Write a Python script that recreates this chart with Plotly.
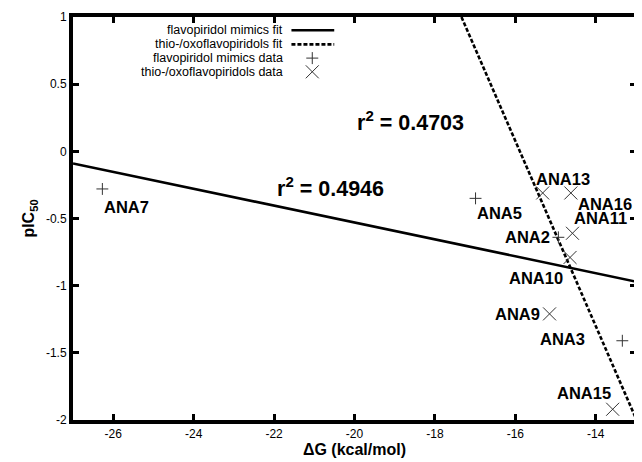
import plotly.graph_objects as go

# ---------------- data ----------------
mimics_names = ["ANA7", "ANA5", "ANA2", "ANA3"]
mimics_dg = [-26.27, -16.99, -14.93, -13.34]
mimics_pic50 = [-0.28, -0.35, -0.64, -1.41]

thio_names = ["ANA13", "ANA16", "ANA11", "ANA10", "ANA9", "ANA15"]
thio_dg = [-15.32, -14.62, -14.58, -14.64, -15.15, -13.58]
thio_pic50 = [-0.31, -0.31, -0.61, -0.79, -1.21, -1.92]

mimics_fit_dg = [-27.0, -13.0]
mimics_fit_pic50 = [-0.09, -0.97]
thio_fit_dg = [-17.34, -13.0]
thio_fit_pic50 = [1.0, -1.99]

mimics_r2 = "0.4946"
thio_r2 = "0.4703"

x_range = [-27, -13]
y_range = [-2, 1]
x_tickvals = [-26, -24, -22, -20, -18, -16, -14]
x_ticktext = ["-26", "-24", "-22", "-20", "-18", "-16", "-14"]
y_tickvals = [1, 0.5, 0, -0.5, -1, -1.5, -2]
y_ticktext = ["1", "0.5", "0", "-0.5", "-1", "-1.5", "-2"]

legend_labels = ["flavopiridol mimics fit", "thio-/oxoflavopiridols fit",
                 "flavopiridol mimics data", "thio-/oxoflavopiridols data"]

# ---------------- styling ----------------
FONT = "Liberation Sans, Arial, Helvetica, sans-serif"
INK = "#333"
W, H = 634, 454          # page body adds an 8px margin in the 642x462 window
M = dict(l=65, r=2, t=9, b=42)
# label offsets in pixels (dx right, dy down) relative to each point
label_offsets = {
    "ANA7": (24, 18), "ANA5": (24, 15), "ANA2": (-31, 0), "ANA3": (-60, -2),
    "ANA13": (20, -14), "ANA16": (34, 11), "ANA11": (28, -15),
    "ANA10": (-34, 21), "ANA9": (-32, 0), "ANA15": (-29, -16),
}

fig = go.Figure()

fig.add_trace(go.Scatter(x=mimics_fit_dg, y=mimics_fit_pic50, mode="lines",
                         line=dict(color="black", width=2.6), showlegend=False))
fig.add_trace(go.Scatter(x=thio_fit_dg, y=thio_fit_pic50, mode="lines",
                         line=dict(color="black", width=2.6, dash="4px,2px"),
                         showlegend=False))
fig.add_trace(go.Scatter(x=mimics_dg, y=mimics_pic50, mode="markers",
                         marker=dict(symbol="cross-thin", size=8.5,
                                     line=dict(color=INK, width=1)),
                         showlegend=False))
fig.add_trace(go.Scatter(x=thio_dg, y=thio_pic50, mode="markers",
                         marker=dict(symbol="x-thin", size=13,
                                     line=dict(color=INK, width=1)),
                         showlegend=False))

# manual gnuplot-style legend (text left, sample right), in plot-fraction coords
leg_rows = [0.967, 0.932, 0.898, 0.864]
leg_x0, leg_x1, leg_xm, leg_xt = 0.388, 0.464, 0.425, 0.376
shapes = [
    dict(type="line", xref="paper", yref="paper", x0=leg_x0, x1=leg_x1,
         y0=leg_rows[0], y1=leg_rows[0], line=dict(color="black", width=2.6)),
    dict(type="line", xref="paper", yref="paper", x0=leg_x0, x1=leg_x1,
         y0=leg_rows[1], y1=leg_rows[1],
         line=dict(color="black", width=2.6, dash="4px,2px")),
    dict(type="path", xref="paper", yref="paper", xsizemode="pixel",
         ysizemode="pixel", xanchor=leg_xm, yanchor=leg_rows[2],
         path="M-6,0 L6,0 M0,-6 L0,6", line=dict(color=INK, width=1)),
    dict(type="path", xref="paper", yref="paper", xsizemode="pixel",
         ysizemode="pixel", xanchor=leg_xm, yanchor=leg_rows[3],
         path="M-6.5,-6.5 L6.5,6.5 M-6.5,6.5 L6.5,-6.5",
         line=dict(color=INK, width=1)),
]

annotations = []
for lab, yy in zip(legend_labels, leg_rows):
    annotations.append(dict(x=leg_xt, y=yy, xref="paper", yref="paper", text=lab,
                            showarrow=False, xanchor="right", yanchor="middle",
                            font=dict(family=FONT, size=12.5, color="black")))

for names, xs, ys in [(mimics_names, mimics_dg, mimics_pic50),
                      (thio_names, thio_dg, thio_pic50)]:
    for n, xv, yv in zip(names, xs, ys):
        dx, dy = label_offsets[n]
        annotations.append(dict(x=xv, y=yv, text="<b>%s</b>" % n, showarrow=False,
                                xshift=dx, yshift=-dy, xanchor="center",
                                yanchor="middle",
                                font=dict(family=FONT, size=16.5, color="black")))

annotations.append(dict(x=-18.60, y=0.226, text="<b>r<sup>2</sup> = %s</b>" % thio_r2,
                        showarrow=False, xanchor="center", yanchor="middle",
                        font=dict(family=FONT, size=21.5, color="black")))
annotations.append(dict(x=-20.60, y=-0.267, text="<b>r<sup>2</sup> = %s</b>" % mimics_r2,
                        showarrow=False, xanchor="center", yanchor="middle",
                        font=dict(family=FONT, size=21.5, color="black")))

# gnuplot-like heavy frame with inside ticks on all four sides
axis_common = dict(showline=True, linewidth=4, linecolor="#000000", mirror="all",
                   ticks="inside", ticklen=6, tickwidth=3, tickcolor="#000000",
                   showgrid=False, zeroline=False, layer="above traces",
                   tickfont=dict(family=FONT, size=12, color="black"))

fig.update_layout(
    width=W, height=H,
    margin=M,
    paper_bgcolor="white", plot_bgcolor="white",
    showlegend=False,
    annotations=annotations,
    shapes=shapes,
    xaxis=dict(range=x_range, tickvals=x_tickvals, ticktext=x_ticktext,
               title=dict(text="<b>ΔG (kcal/mol)</b>", standoff=4,
                          font=dict(family=FONT, size=16, color="black")),
               **axis_common),
    yaxis=dict(range=y_range, tickvals=y_tickvals, ticktext=y_ticktext,
               title=dict(text="<b>pIC<sub>50</sub></b>", standoff=8,
                          font=dict(family=FONT, size=16, color="black")),
               **axis_common),
)

fig.write_html("out.html")
